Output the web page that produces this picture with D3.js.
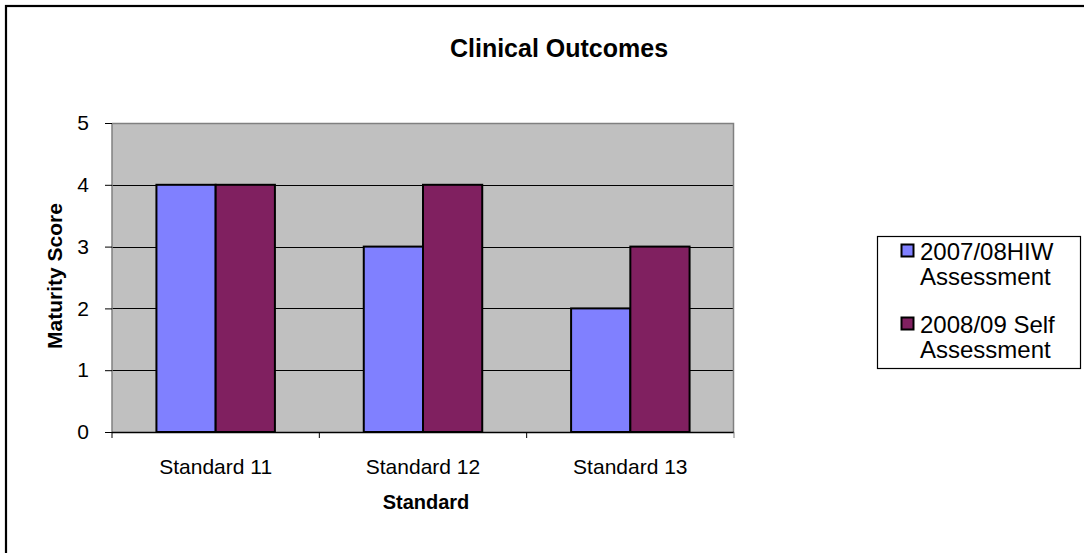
<!DOCTYPE html>
<html>
<head>
<meta charset="utf-8">
<script src="https://cdn.jsdelivr.net/npm/d3@7"></script>
<style>
  html, body { margin: 0; padding: 0; background: #fff; }
  svg { display: block; font-family: "Liberation Sans", Arial, sans-serif; }
</style>
</head>
<body>
<svg id="chart" width="1084" height="553"></svg>
<script>
// Clinical Outcomes: maturity scores per standard, two assessment rounds
const categories = ["Standard 11", "Standard 12", "Standard 13"];
const seriesNames = [["2007/08HIW", "Assessment"], ["2008/09 Self", "Assessment"]];
const hiw2007 = [4, 3, 2];
const self2008 = [4, 4, 3];
const yTicks = [0, 1, 2, 3, 4, 5];
const colors = ["#8080FF", "#802060"];

const svg = d3.select("#chart");
const W = 1084, H = 553;

// outer chart frame (runs off the right and bottom edges)
svg.append("rect")
  .attr("x", 6).attr("y", 6)
  .attr("width", W + 20).attr("height", H + 20)
  .attr("fill", "#fff").attr("stroke", "#000").attr("stroke-width", 2.2);

const plot = { left: 112, right: 734, top: 123, bottom: 432 };

const x0 = d3.scaleBand().domain(categories)
  .range([plot.left, plot.right]).paddingInner(0).paddingOuter(0);
const x1 = d3.scaleBand().domain([0, 1])
  .range([0, x0.bandwidth()]).paddingInner(0).paddingOuter(0.75);
const y = d3.scaleLinear().domain([0, 5]).range([plot.bottom, plot.top]);

// plot area
svg.append("rect")
  .attr("x", plot.left).attr("y", plot.top)
  .attr("width", plot.right - plot.left).attr("height", plot.bottom - plot.top)
  .attr("fill", "#C0C0C0");

// horizontal gridlines
svg.append("g").selectAll("line")
  .data(yTicks.filter(d => d > 0 && d < 5))
  .join("line")
  .attr("x1", plot.left).attr("x2", plot.right)
  .attr("y1", d => Math.round(y(d)) + 0.5).attr("y2", d => Math.round(y(d)) + 0.5)
  .attr("stroke", "#000").attr("stroke-width", 1);

// plot border (top and right in grey)
svg.append("path")
  .attr("d", `M${plot.left},${plot.top + 0.5}H${plot.right - 0.5}V${plot.bottom}`)
  .attr("fill", "none").attr("stroke", "#808080").attr("stroke-width", 1.5);

// bars
const series = [hiw2007, self2008];
const groups = svg.append("g").selectAll("g")
  .data(categories)
  .join("g")
  .attr("transform", d => `translate(${x0(d)},0)`);

groups.selectAll("rect")
  .data((d, i) => series.map((s, k) => ({ k, v: s[i] })))
  .join("rect")
  .attr("x", d => x1(d.k))
  .attr("y", d => y(d.v))
  .attr("width", x1.bandwidth())
  .attr("height", d => y(0) - y(d.v))
  .attr("fill", d => colors[d.k])
  .attr("stroke", "#000").attr("stroke-width", 2);

// y axis
const yAxis = d3.axisLeft(y).tickValues(yTicks).tickSize(7).tickPadding(16)
  .tickFormat(d3.format("d"));
const gy = svg.append("g")
  .attr("transform", `translate(${plot.left},0)`)
  .call(yAxis);
gy.select(".domain").attr("stroke", "#808080").attr("stroke-width", 1.5)
  .attr("d", `M0,${plot.top}V${plot.bottom}`);
gy.selectAll(".tick line").attr("stroke", "#000");
gy.selectAll(".tick text").attr("font-size", 21).attr("fill", "#000")
  .attr("font-family", "Liberation Sans, Arial, sans-serif");

// x axis: ticks at category boundaries
const boundaries = categories.map(c => x0(c)).concat([plot.right]);
const gx = svg.append("g").attr("transform", `translate(0,${plot.bottom})`);
gx.append("line")
  .attr("x1", plot.left).attr("x2", plot.right)
  .attr("y1", 0.5).attr("y2", 0.5)
  .attr("stroke", "#000").attr("stroke-width", 1.5);
gx.selectAll(".btick").data(boundaries).join("line")
  .attr("class", "btick")
  .attr("x1", d => d).attr("x2", d => d)
  .attr("y1", 0).attr("y2", 6)
  .attr("stroke", (d, i) => i === boundaries.length - 1 ? "#808080" : "#000");
gx.selectAll(".clabel").data(categories).join("text")
  .attr("class", "clabel")
  .attr("x", d => x0(d) + x0.bandwidth() / 2)
  .attr("y", 42)
  .attr("text-anchor", "middle")
  .attr("font-size", 21)
  .text(d => d);

// titles
svg.append("text")
  .attr("x", 559).attr("y", 57)
  .attr("text-anchor", "middle")
  .attr("font-size", 25).attr("font-weight", "bold")
  .text("Clinical Outcomes");

svg.append("text")
  .attr("x", 426).attr("y", 509)
  .attr("text-anchor", "middle")
  .attr("font-size", 20).attr("font-weight", "bold")
  .text("Standard");

svg.append("text")
  .attr("transform", `translate(62,276) rotate(-90)`)
  .attr("text-anchor", "middle")
  .attr("font-size", 21).attr("font-weight", "bold")
  .text("Maturity Score");

// legend
const legend = svg.append("g");
legend.append("rect")
  .attr("x", 877.5).attr("y", 236.5)
  .attr("width", 203).attr("height", 132)
  .attr("fill", "#fff").attr("stroke", "#000").attr("stroke-width", 1.2);

const items = legend.selectAll(".item").data(seriesNames).join("g")
  .attr("class", "item")
  .attr("transform", (d, i) => `translate(0,${260 + i * 73})`);
items.append("rect")
  .attr("x", 901.5).attr("y", -15.5)
  .attr("width", 12).attr("height", 12)
  .attr("fill", (d, i) => colors[i])
  .attr("stroke", "#000").attr("stroke-width", 2);
items.append("text")
  .attr("x", 920).attr("y", 0)
  .attr("font-size", 24)
  .selectAll("tspan").data(d => d).join("tspan")
  .attr("x", 920).attr("dy", (d, j) => j === 0 ? 0 : 25)
  .text(d => d);
</script>
</body>
</html>
